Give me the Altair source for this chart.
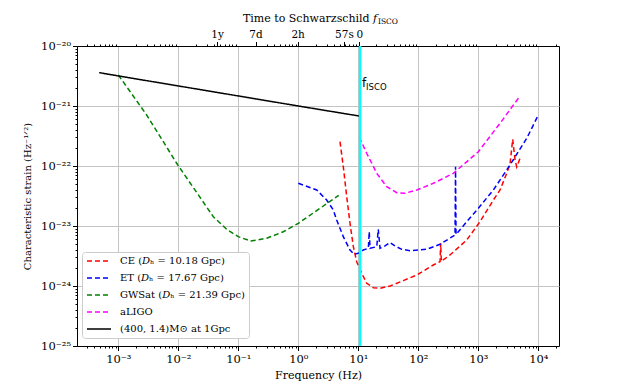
import altair as alt
import pandas as pd

# ---------------- data ----------------
X_MIN, X_MAX = 2.05e-4, 2.21e4
Y_MIN, Y_MAX = 1e-25, 1e-20
F_ISCO = 10.7       # cyan line
F_ZERO = 10.4       # top axis "0"

ce_f = [4.95, 5.62, 6.41, 7.27, 8.26, 9.4, 11.4, 13.8, 17.8, 23.0, 33.8, 56.2, 94.0, 178, 230, 236, 242,
        337, 641, 1067, 1778, 2301, 2972, 3375, 3741, 4093, 4365, 4955]
ce_h = [2.54e-22, 9.73e-23, 3.08e-23, 1.11e-23, 4.52e-24, 2.54e-24, 1.63e-24, 1.11e-24, 9.37e-25, 9.16e-25,
        1.0e-24, 1.23e-24, 1.52e-24, 2.24e-24, 2.54e-24, 5.15e-24, 2.58e-24, 3.29e-24, 5.85e-24, 1.18e-23,
        2.71e-23, 3.98e-23, 7.55e-23, 1.08e-22, 2.79e-22, 1.26e-22, 9.62e-23, 1.34e-22]

et_f = [1.0, 2.03, 2.97, 3.83, 4.36, 5.62, 7.27, 8.48, 10.0, 12.1, 14.7, 15.2, 15.7, 20.3, 21.5, 23.0, 27.9,
        33.8, 40.9, 52.9, 72.7, 138, 230, 409, 417, 425, 641, 1000, 1778, 3375, 6412, 10000]
et_h = [5.15e-23, 3.98e-23, 2.71e-23, 1.85e-23, 1.26e-23, 6.64e-24, 3.98e-24, 3.37e-24, 3.51e-24, 3.98e-24,
        4.25e-24, 8.04e-24, 4.25e-24, 4.52e-24, 8.81e-24, 4.25e-24, 4.65e-24, 5.31e-24, 4.65e-24, 4.09e-24,
        3.88e-24, 4.09e-24, 4.95e-24, 7.08e-24, 9.73e-23, 7.21e-24, 1.18e-23, 1.97e-23, 3.98e-23, 1.04e-22,
        2.9e-22, 7.08e-22]

gw_f = [1e-3, 2.97e-3, 9.8e-3, 3.83e-2, 6.41e-2, 0.1, 0.161, 0.297, 0.562, 1.0, 2.3, 4.71]
gw_h = [3.3e-21, 7.08e-22, 1.04e-22, 1.43e-23, 8.81e-24, 6.64e-24, 5.62e-24, 6.24e-24, 8.03e-24, 1.11e-23,
        1.97e-23, 3.25e-23]

al_f = [10.4, 13.8, 20.3, 29.7, 43.7, 60, 94, 178, 383, 1000, 2301, 4955]
al_h = [3.01e-22, 1.63e-22, 7.55e-23, 4.52e-23, 3.59e-23, 3.51e-23, 3.98e-23, 5.15e-23, 7.55e-23, 1.73e-22,
        5.15e-22, 1.47e-21]

bh_f = [4.8e-4, 1e-3, 1e-2, 1e-1, 1.0, 10.4]
bh_h = [3.6e-21, 3.17e-21, 2.16e-21, 1.47e-21, 1.0e-21, 6.8e-22]

series_names = [
    "CE (𝐷ₕ = 10.18 Gpc)",
    "ET (𝐷ₕ = 17.67 Gpc)",
    "GWSat (𝐷ₕ = 21.39 Gpc)",
    "aLIGO",
    "(400, 1.4)M⊙ at 1Gpc",
]
series_colors = ["#ff0000", "#0000ff", "#008000", "#ff00ff", "#000000"]
series_dashes = [[5, 3], [5, 3], [5, 3], [5, 3], [1, 0]]

top_labels = ["1y", "7d", "2h", "57s", "0"]
top_values = [0.0442, 0.1936, 0.973, 5.75, F_ZERO]

x_major = [1e-3, 1e-2, 1e-1, 1.0, 10.0, 100.0, 1e3, 1e4]
y_major = [1e-25, 1e-24, 1e-23, 1e-22, 1e-21, 1e-20]

# ---------------- table ----------------
rows = []
for name, fs, hs in zip(series_names, [ce_f, et_f, gw_f, al_f, bh_f], [ce_h, et_h, gw_h, al_h, bh_h]):
    for i, (f, h) in enumerate(zip(fs, hs)):
        rows.append({"series": name, "f": f, "h": h, "idx": i})
df = pd.DataFrame(rows)

SUP = str.maketrans("0123456789-", "⁰¹²³⁴⁵⁶⁷⁸⁹⁻")


def dec_label(v):
    import math
    return "10" + str(round(math.log10(v))).translate(SUP)


x_minor = [m * 10.0 ** k for k in range(-4, 5) for m in range(2, 10) if X_MIN <= m * 10.0 ** k <= X_MAX]
y_minor = [m * 10.0 ** k for k in range(-26, -20) for m in range(2, 10) if Y_MIN <= m * 10.0 ** k <= Y_MAX]

L = "(log(datum.value)/LN10)"
IS_MAJOR = f"abs({L} - round({L})) < 0.001"


def decade_expr(vals):
    import math
    expr = "''"
    for v in reversed(vals):
        e = round(math.log10(v))
        expr = f"round({L}) == {e} ? '{dec_label(v)}' : {expr}"
    return f"{IS_MAJOR} ? ({expr}) : ''"


top_test = " || ".join([f"abs(datum.value - {v})/{v} < 1e-6" for v in top_values])
top_expr = "''"
for v, lab in reversed(list(zip(top_values, top_labels))):
    top_expr = f"abs(datum.value - {v})/{v} < 1e-6 ? '{lab}' : {top_expr}"

SERIF = "DejaVu Serif"
W, H = 482, 300
common_axis = dict(
    domainColor="black", tickColor="black", tickWidth=1, labelFont=SERIF,
    labelColor="black", titleFont=SERIF, titleFontWeight="normal", titleColor="black",
    labelOverlap=False, labelFlush=False, labelBound=False, gridColor="#c4c4c4", gridWidth=1,
)

bottom_axis = alt.Axis(
    orient="bottom", values=x_major + x_minor, labelExpr=decade_expr(x_major),
    tickSize={"condition": {"test": IS_MAJOR, "value": 4.5}, "value": 2},
    grid=True, gridOpacity={"condition": {"test": IS_MAJOR, "value": 1}, "value": 0},
    title="Frequency (Hz)", titleFontSize=11, titleAnchor="middle", titleX=W / 2,
    labelFontSize=11.5, labelPadding=3, titlePadding=4, **common_axis,
)
left_axis = alt.Axis(
    orient="left", values=y_major + y_minor, labelExpr=decade_expr(y_major),
    tickSize={"condition": {"test": IS_MAJOR, "value": 4.5}, "value": 2},
    grid=True, gridOpacity={"condition": {"test": IS_MAJOR, "value": 1}, "value": 0},
    title="Characteristic strain (Hz⁻¹ᐟ²)", titleFontSize=10, labelFontSize=11.5,
    labelPadding=2, titlePadding=8, **common_axis,
)
top_axis = alt.Axis(
    orient="top", values=top_values + x_minor, labelExpr=top_expr,
    tickSize={"condition": {"test": top_test, "value": 4.5}, "value": 2},
    grid=False, title=None, labelFontSize=10.5, labelPadding=2, **common_axis,
)

xscale = alt.Scale(type="log", domain=[X_MIN, X_MAX], nice=False)
yscale = alt.Scale(type="log", domain=[Y_MIN, Y_MAX], nice=False)

legend = alt.Legend(
    title=None, orient="none", legendX=5, legendY=206,
    symbolType="M-3,0L3,0", symbolSize=64, symbolStrokeWidth=1.5,
    labelFont=SERIF, labelFontSize=10, labelColor="black",
    fillColor="white", strokeColor="#cccccc", cornerRadius=3,
    padding=4, rowPadding=7, symbolOffset=8, labelOffset=16,
)

lines = alt.Chart(df).mark_line(strokeWidth=1.5, clip=True).encode(
    x=alt.X("f:Q", scale=xscale, axis=bottom_axis),
    y=alt.Y("h:Q", scale=yscale, axis=left_axis),
    color=alt.Color("series:N", scale=alt.Scale(domain=series_names, range=series_colors), legend=legend),
    strokeDash=alt.StrokeDash("series:N", scale=alt.Scale(domain=series_names, range=series_dashes),
                              legend=legend),
    order="idx:Q",
)

isco = alt.Chart(pd.DataFrame({"f": [F_ISCO]})).mark_rule(color="#00ffff", strokeWidth=2.5).encode(
    x=alt.X("f:Q", scale=xscale, axis=top_axis),
)

f_lbl = alt.Chart(pd.DataFrame({"f": [F_ISCO], "t": ["f"]})).mark_text(
    align="left", baseline="middle", dx=2, font="DejaVu Sans", fontSize=12, color="black"
).encode(x=alt.X("f:Q", scale=xscale, axis=None), y=alt.value(37), text="t:N")
isco_lbl = alt.Chart(pd.DataFrame({"f": [F_ISCO], "t": ["ISCO"]})).mark_text(
    align="left", baseline="middle", dx=6, font="DejaVu Sans", fontSize=8.5, color="black"
).encode(x=alt.X("f:Q", scale=xscale, axis=None), y=alt.value(41), text="t:N")

t1 = alt.Chart(pd.DataFrame({"t": ["Time to Schwarzschild"]})).mark_text(
    align="left", baseline="middle", font=SERIF, fontSize=11, color="black"
).encode(x=alt.value(166), y=alt.value(-27), text="t:N")
t2 = alt.Chart(pd.DataFrame({"t": ["f"]})).mark_text(
    align="left", baseline="middle", font=SERIF, fontSize=11, fontStyle="italic", color="black"
).encode(x=alt.value(296), y=alt.value(-27), text="t:N")
t3 = alt.Chart(pd.DataFrame({"t": ["ISCO"]})).mark_text(
    align="left", baseline="middle", font=SERIF, fontSize=7.5, color="black"
).encode(x=alt.value(301), y=alt.value(-24), text="t:N")

chart = alt.layer(lines, isco, f_lbl, isco_lbl, t1, t2, t3).resolve_axis(
    x="independent", y="independent"
).properties(
    width=W, height=H,
    autosize=alt.AutoSizeParams(type="none"),
    padding={"left": 69, "top": 38, "right": 56, "bottom": 35},
).configure_view(stroke="black", strokeWidth=1)

chart.save("out.html", embed_options={"renderer": "svg", "actions": False})
